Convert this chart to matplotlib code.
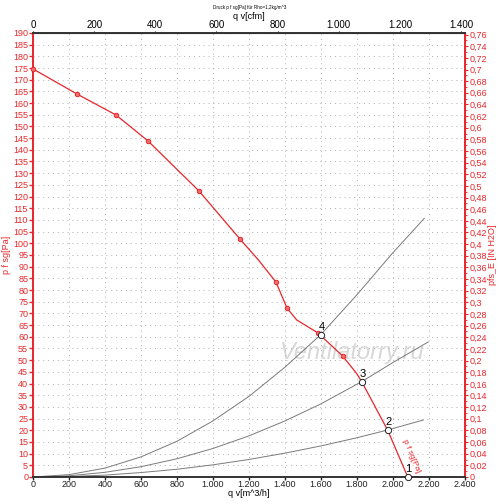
import matplotlib
matplotlib.use('Agg')
import matplotlib.pyplot as plt
from matplotlib.ticker import MultipleLocator, FuncFormatter

plt.rcParams['font.family'] = ['Liberation Sans', 'DejaVu Sans']

# fan curve p f sg [Pa] over q v [m^3/h]
q_fan = [0, 244, 461, 639, 922, 1150, 1252, 1350, 1411, 1465, 1582, 1720, 1798, 1826, 1970, 2082]
p_fan = [174.6, 163.9, 154.9, 143.8, 122.4, 101.8, 92.9, 83.4, 72.3, 67.2, 61.7, 51.8, 44.3, 40.8, 20.1, 0]
q_meas = [0, 244, 461, 639, 922, 1150, 1350, 1411, 1582, 1720]
p_meas = [174.6, 163.9, 154.9, 143.8, 122.4, 101.8, 83.4, 72.3, 61.7, 51.8]

# system curves
q_sys4 = [0, 200, 400, 600, 800, 1000, 1200, 1400, 1600, 1800, 2000, 2174]
p_sys4 = [0, 1.0, 3.8, 8.6, 15.3, 24.0, 34.5, 47.0, 61.0, 78.0, 96.0, 110.7]
q_sys3 = [0, 200, 400, 600, 800, 1000, 1200, 1400, 1600, 1826, 2000, 2196]
p_sys3 = [0, 0.5, 2.0, 4.4, 7.8, 12.2, 17.6, 24.0, 31.3, 40.8, 49.0, 57.8]
q_sys2 = [0, 200, 400, 600, 800, 1000, 1200, 1400, 1600, 1800, 1970, 2169]
p_sys2 = [0, 0.2, 0.8, 1.9, 3.3, 5.2, 7.5, 10.2, 13.3, 16.8, 20.1, 24.4]

# operating points
op_q = [2082, 1970, 1826, 1598]
op_p = [0, 20.1, 40.8, 60.8]
op_lab = ['1', '2', '3', '4']

red = '#e8262b'
fs = 6.5

fig = plt.figure(figsize=(5, 5.04), dpi=100)
ax = fig.add_axes([0.066, 0.0536, 0.864, 0.881])

for qs, ps in [(q_sys4, p_sys4), (q_sys3, p_sys3), (q_sys2, p_sys2)]:
    ax.plot(qs, ps, color='#7a7a7a', lw=0.7)

ax.plot(q_fan, p_fan, color=red, lw=0.9, zorder=4)
ax.plot(q_meas, p_meas, 'o', ms=3.2, mfc='#f07070', mec=red, mew=0.7, zorder=5, clip_on=False)

ax.plot(op_q, op_p, 'o', ms=4.5, mfc='white', mec='#222222', mew=0.7, zorder=6, clip_on=False)
for qq, pp, lab in zip(op_q, op_p, op_lab):
    ax.text(qq + 5, pp + 1.2, lab, fontsize=8, ha='center', va='bottom', zorder=7)

ax.text(2100, 9, 'p f sg[Pa]', color=red, fontsize=6, rotation=-67, ha='center', va='center')
ax.text(0.74, 0.28, 'Ventilatorry.ru', transform=ax.transAxes, fontsize=17, style='italic',
        color='#d8d8d8', ha='center', va='center', zorder=1)

ax.set_xlim(0, 2400)
ax.set_ylim(0, 190)
ax.xaxis.set_major_locator(MultipleLocator(200))
ax.yaxis.set_major_locator(MultipleLocator(5))
ax.xaxis.set_major_formatter(FuncFormatter(lambda v, p: f'{v:,.0f}'.replace(',', '.')))
ax.grid(True, color='#b0b0b0', lw=0.7, ls=(0, (1, 4)))

ax.tick_params(axis='x', labelsize=fs, length=2, width=1, colors='#222222', pad=0.5)
ax.tick_params(axis='y', labelsize=fs, length=3, width=1, colors=red, labelcolor=red, pad=0.5)
for side, col in [('left', red), ('right', red), ('bottom', '#333333'), ('top', '#333333')]:
    ax.spines[side].set_color(col)
    ax.spines[side].set_linewidth(1.4)

ax.set_ylabel('p f sg[Pa]', color=red, fontsize=fs)
ax.yaxis.set_label_coords(-0.052, 0.5)
ax.set_xlabel('q v[m^3/h]', fontsize=fs)
ax.xaxis.set_label_coords(0.5, -0.027)

cfm = 0.588578
top = ax.secondary_xaxis('top', functions=(lambda x: x * cfm, lambda x: x / cfm))
top.xaxis.set_major_locator(MultipleLocator(200))
top.xaxis.set_minor_locator(MultipleLocator(50))
top.xaxis.set_major_formatter(FuncFormatter(lambda v, p: f'{v:,.0f}'.replace(',', '.')))
top.tick_params(which='major', labelsize=7, length=1.5, pad=0.5)
top.tick_params(which='minor', length=1)
top.set_xlabel('q v[cfm]', fontsize=fs, labelpad=1)

inh2o = 0.0040146
right = ax.secondary_yaxis('right', functions=(lambda y: y * inh2o, lambda y: y / inh2o))
right.yaxis.set_major_locator(MultipleLocator(0.02))
right.yaxis.set_minor_locator(MultipleLocator(0.01))
right.yaxis.set_major_formatter(FuncFormatter(lambda v, p: f'{v:.2f}'.rstrip('0').rstrip('.').replace('.', ',') if v > 1e-9 else '0'))
right.tick_params(which='major', labelsize=fs, length=2.5, colors=red, labelcolor=red, pad=0.5)
right.tick_params(which='minor', length=1.5, colors=red)
right.spines['right'].set_color(red)
right.set_ylabel('pfs_E [IN H2O]', color=red, fontsize=fs, labelpad=1)

fig.text(0.5, 0.986, 'Druck p f sg[Pa] für Rho=1,2kg/m^3', fontsize=3.3, ha='center', va='center')

fig.savefig('out.png', dpi=100)
